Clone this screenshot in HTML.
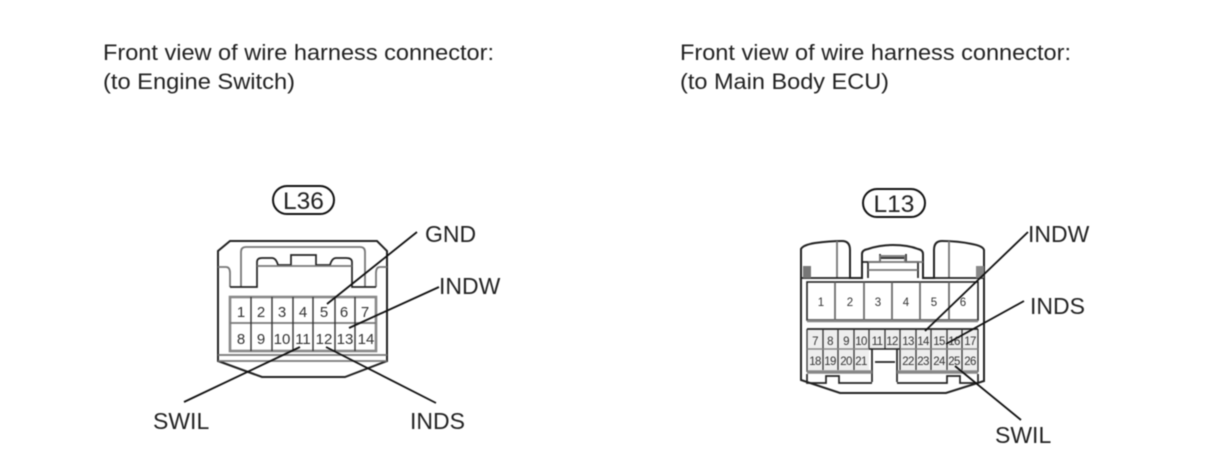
<!DOCTYPE html>
<html><head><meta charset="utf-8"><style>
html,body{margin:0;padding:0;background:#fff;width:1210px;height:474px;overflow:hidden}
svg{display:block;filter:blur(.45px)}
text{font-family:"Liberation Sans",sans-serif;fill:#222}
.t{font-size:23px}
.h{font-size:22.5px}
.n{font-size:15px;text-anchor:middle;fill:#333}
.m{font-size:11.5px;text-anchor:middle;fill:#333}
.o{fill:none;stroke:#222;stroke-width:2}
.g{fill:none;stroke:#777;stroke-width:1.8}
.d{fill:none;stroke:#222;stroke-width:1.7}
.l{stroke:#111;stroke-width:1.8;fill:none}
</style></head><body>
<svg width="1210" height="474" viewBox="0 0 1210 474" xmlns="http://www.w3.org/2000/svg">
<rect width="1210" height="474" fill="#fff"/>
<text class="h" x="103" y="60" textLength="391" lengthAdjust="spacingAndGlyphs">Front view of wire harness connector:</text>
<text class="h" x="103" y="89" textLength="192" lengthAdjust="spacingAndGlyphs">(to Engine Switch)</text>
<text class="h" x="680" y="60" textLength="391" lengthAdjust="spacingAndGlyphs">Front view of wire harness connector:</text>
<text class="h" x="680" y="89" textLength="209" lengthAdjust="spacingAndGlyphs">(to Main Body ECU)</text>

<!-- L36 -->
<rect x="273" y="186" width="61" height="28" rx="14" ry="14" fill="none" stroke="#111" stroke-width="2"/>
<text x="303.500" y="209" style="font-size:24.5px;text-anchor:middle">L36</text>
<path class="o" d="M230 241H377L387 251V361L345 377H262L218 361V251Z"/>
<path class="g" d="M218 267H226Q230 267 230 273V287M387 267H380Q376 267 376 273V287M218 355H387"/>
<path class="g" d="M218 361H387" stroke-width="1.2"/>
<path class="g" d="M241 287V252Q241 247 246 247H360Q365 247 365 252V287"/>
<path class="d" d="M230 287H257V262Q257 258 262 258H272Q276 258 278 265H291V255H316V265H330Q332 258 336 258H346Q352 258 352 262V287H376" stroke-width="1.3"/>
<path class="g" d="M257 266H352" stroke="#999"/>
<rect x="230" y="297" width="146" height="54" fill="none" stroke="#888" stroke-width="2.6"/>
<path class="g" d="M230 323H376" stroke="#888" stroke-width="2"/>
<path d="M251 297V351M272 297V351M293 297V351M313 297V351M335 297V351M355 297V351" stroke="#333" stroke-width="1.4" fill="none"/>
<text class="n" x="241" y="317">1</text><text class="n" x="261" y="317">2</text><text class="n" x="282" y="317">3</text><text class="n" x="303" y="317">4</text><text class="n" x="324" y="317">5</text><text class="n" x="344" y="317">6</text><text class="n" x="365" y="317">7</text>
<text class="n" x="241" y="344">8</text><text class="n" x="261" y="344">9</text><text class="n" x="282" y="344">10</text><text class="n" x="303" y="344">11</text><text class="n" x="324" y="344">12</text><text class="n" x="345" y="344">13</text><text class="n" x="366" y="344">14</text>
<path class="l" d="M417 232L327 304M439 287L349 328M300 347L184 402M326 347L436 403"/>
<text class="t" x="425" y="242">GND</text>
<text class="t" x="439" y="294">INDW</text>
<text class="t" x="153" y="429">SWIL</text>
<text class="t" x="410" y="429">INDS</text>

<!-- L13 -->
<rect x="863" y="189" width="62" height="28" rx="14" ry="14" fill="none" stroke="#111" stroke-width="2"/>
<text x="894" y="212" style="font-size:24.5px;text-anchor:middle">L13</text>
<path class="o" d="M801 249Q803 245 815 243Q830 241 842 241Q850 241 850 250V278H862V254Q862 250 868 249Q880 245 893 245Q908 245 918 249Q923 250 923 254V278H934V250Q934 241 942 241Q958 241 972 244Q983 246 984 250V381L946 393H840L801 380Z"/>
<path class="g" d="M837 241V278M949 241V278"/>
<path class="d" d="M802 278H850M934 278H984"/>
<rect x="803" y="266" width="8" height="12" fill="#777"/>
<rect x="976" y="266" width="8" height="12" fill="#888"/>
<path class="d" d="M862 262H868M868 278V262H880V254M918 278V262H906V254M880 258H906" stroke-width="1.2"/>
<path class="g" d="M868 262H923M880 262V256H905V262M868 270H918" stroke-width="1.4"/>
<rect x="807" y="282" width="171" height="38" fill="none" stroke="#222" stroke-width="1.6"/>
<path d="M835 282V320M864 282V320M892 282V320M920 282V320M949 282V320" stroke="#666" stroke-width="1.7" fill="none"/>
<path d="M807 321H978" stroke="#888" stroke-width="2.6"/>
<text class="m" x="821" y="306">1</text><text class="m" x="850" y="306">2</text><text class="m" x="878" y="306">3</text><text class="m" x="906" y="306">4</text><text class="m" x="934" y="306">5</text><text class="m" x="963" y="306">6</text>
<rect x="807" y="329" width="171" height="41" fill="#eee"/>
<rect x="869" y="349" width="31" height="24" fill="#fff"/>
<path class="d" d="M807 329H978"/>
<path d="M807 329V372M978 329V372M823 329V370M838 329V370M854 329V370M869 329V349M885 329V349M900 329V370M916 329V370M931 329V370M947 329V370M962 329V370" stroke="#333" stroke-width="1.3" fill="none"/>
<path d="M807 349H872M897 349H978" stroke="#888" stroke-width="1.4"/>
<path d="M869 349H900" stroke="#222" stroke-width="1.5"/>
<path class="d" d="M872 349V382M897 349V382M875 362H895" stroke-width="1.3"/>
<path d="M807 372H872M897 372H978" stroke="#888" stroke-width="3.6"/>
<path class="d" d="M807 374V383H826V376H839V383H872M897 383H947V376H960V383H978V374" stroke-width="1.4"/>
<g style="letter-spacing:-.6px">
<text class="m" x="815" y="345">7</text><text class="m" x="830" y="345">8</text><text class="m" x="846" y="345">9</text><text class="m" x="861" y="345">10</text><text class="m" x="877" y="345">11</text><text class="m" x="892" y="345">12</text><text class="m" x="908" y="345">13</text><text class="m" x="923" y="345">14</text><text class="m" x="939" y="345">15</text><text class="m" x="954" y="345">16</text><text class="m" x="970" y="345">17</text>
<text class="m" x="815" y="365">18</text><text class="m" x="830" y="365">19</text><text class="m" x="846" y="365">20</text><text class="m" x="861" y="365">21</text><text class="m" x="908" y="365">22</text><text class="m" x="923" y="365">23</text><text class="m" x="939" y="365">24</text><text class="m" x="954" y="365">25</text><text class="m" x="970" y="365">26</text>
</g>
<path class="l" d="M1028 232L925 331M1024 301L946 344M955 366L1021 420"/>
<text class="t" x="1028" y="242">INDW</text>
<text class="t" x="1030" y="314">INDS</text>
<text class="t" x="995" y="443">SWIL</text>
</svg>
</body></html>
